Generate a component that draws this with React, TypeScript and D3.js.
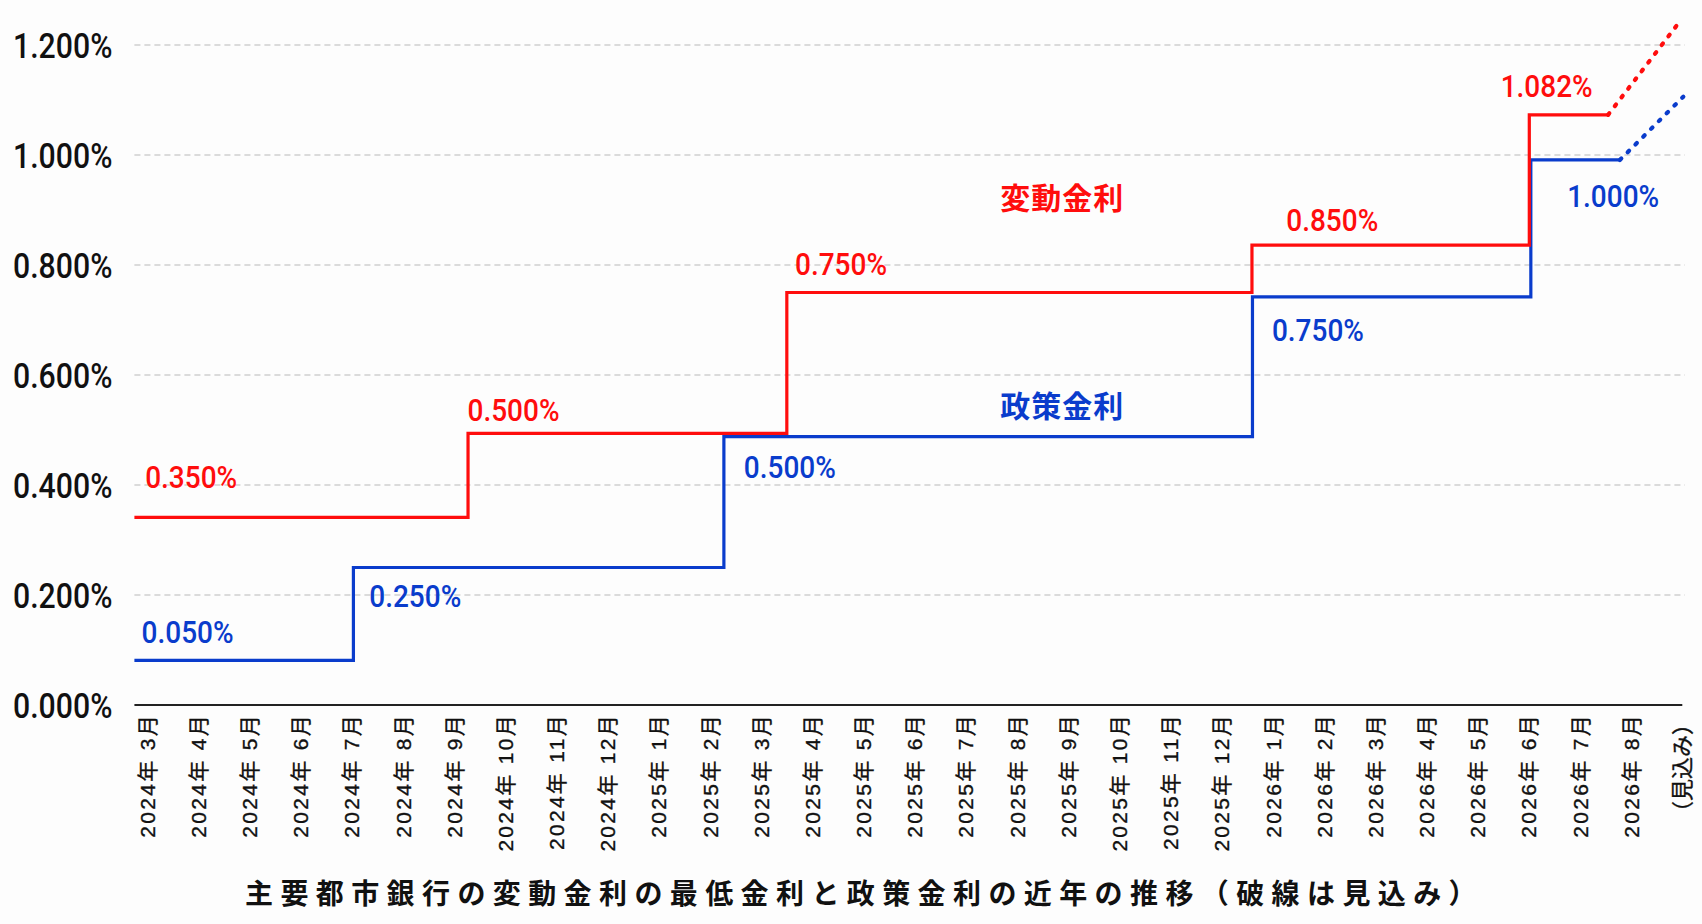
import * as d3 from 'd3'

const W = 1702
const H = 924

// x axis categories (index 0 = 2024年3月)
const MONTHS = [
  '2024年 3月', '2024年 4月', '2024年 5月', '2024年 6月', '2024年 7月', '2024年 8月',
  '2024年 9月', '2024年 10月', '2024年 11月', '2024年 12月',
  '2025年 1月', '2025年 2月', '2025年 3月', '2025年 4月', '2025年 5月', '2025年 6月',
  '2025年 7月', '2025年 8月', '2025年 9月', '2025年 10月', '2025年 11月', '2025年 12月',
  '2026年 1月', '2026年 2月', '2026年 3月', '2026年 4月', '2026年 5月', '2026年 6月',
  '2026年 7月', '2026年 8月', '（見込み）',
]
const Y_TICKS = [0, 0.2, 0.4, 0.6, 0.8, 1.0, 1.2]

// 変動金利 (step starts, month index) and level
const VAR_AT = [-0.25, 6.27, 12.5, 21.59, 27.01, 28.55]
const VAR_RATE = [0.341, 0.494, 0.75, 0.836, 1.073, 1.073]
// 政策金利
const POL_AT = [-0.25, 4.03, 11.27, 21.6, 27.04, 28.78]
const POL_RATE = [0.081, 0.25, 0.488, 0.742, 0.991, 0.991]
// 見込み (dotted)
const VAR_OUTLOOK_AT = [28.55, 29.97]
const VAR_OUTLOOK = [1.073, 1.245]
const POL_OUTLOOK_AT = [28.78, 30.02]
const POL_OUTLOOK = [0.991, 1.106]

// value labels
const VAR_LABELS = ['0.350%', '0.500%', '0.750%', '0.850%', '1.082%']
const VAR_LABEL_AT = [-0.04, 6.26, 12.66, 22.26, 26.45]
const VAR_LABEL_Y = [0.394, 0.517, 0.782, 0.862, 1.105]
const POL_LABELS = ['0.050%', '0.250%', '0.500%', '0.750%', '1.000%']
const POL_LABEL_AT = [-0.11, 4.34, 11.66, 21.98, 27.75]
const POL_LABEL_Y = [0.112, 0.178, 0.412, 0.662, 0.905]

const SERIES_NAMES = ['変動金利', '政策金利']
const SERIES_NAME_AT = [16.67, 16.67]
const SERIES_NAME_Y = [0.901, 0.524]

const TITLE = '主要都市銀行の変動金利の最低金利と政策金利の近年の推移（破線は見込み）'

const RED = '#ff0d0d'
const BLUE = '#0a3ccc'
const NUM_FONT = "Roboto, 'Liberation Sans', sans-serif"
const CJK_FONT = "'Noto Sans CJK JP', sans-serif"
const TICK_FONT = "'Liberation Sans', Arial, 'Noto Sans CJK JP', sans-serif"

type Pt = { i: number; v: number }
const zip = (a: number[], b: number[]): Pt[] => a.map((i, k) => ({ i, v: b[k] }))

export default function App() {
  const x = d3.scaleLinear().domain([0, 30]).range([147.2, 1682.3])
  const y = d3.scaleLinear().domain([0, 1.2]).range([705, 45])
  const left = x(-0.25)
  const right = x(30.05)

  const step = d3.line<Pt>().x(d => x(d.i)).y(d => y(d.v)).curve(d3.curveStepAfter)
  const straight = d3.line<Pt>().x(d => x(d.i)).y(d => y(d.v))

  const varLine = zip(VAR_AT, VAR_RATE)
  const polLine = zip(POL_AT, POL_RATE)

  // narrow the numeric font the way the original's condensed face looks
  const valueLabel = (s: string, i: number, v: number, color: string, key: string) => (
    <text key={key} transform={`translate(${x(i)},${y(v)}) scale(0.875,1)`}
      fontFamily={NUM_FONT} fontWeight={500} fontSize={32} fill={color}>{s}</text>
  )

  return (
    <svg width={W} height={H} viewBox={`0 0 ${W} ${H}`}
      style={{ position: 'absolute', left: 0, top: 0, background: '#fdfdfd' }}>
      {/* grid */}
      {Y_TICKS.filter(t => t > 0).map(t => (
        <line key={t} x1={left} x2={right} y1={y(t)} y2={y(t)}
          stroke="#cfcfcf" strokeWidth={1.5} strokeDasharray="6,4" />
      ))}
      {/* y tick labels */}
      {Y_TICKS.map(t => (
        <text key={t} transform={`translate(${left - 22},${y(t)}) scale(0.84,1)`}
          dy="0.36em" textAnchor="end"
          fontFamily={NUM_FONT} fontWeight={500} fontSize={36} fill="#111">
          {t.toFixed(3)}%
        </text>
      ))}
      {/* x axis */}
      <line x1={left} x2={x(30)} y1={y(0)} y2={y(0)} stroke="#222" strokeWidth={2} />
      {MONTHS.map((m, k) => {
        const last = k === MONTHS.length - 1
        return (
          <text key={m} transform={`translate(${x(k)},${y(0) + 8}) rotate(-90)`}
            textAnchor="end" dy="0.36em" fontFamily={TICK_FONT} fontSize={last ? 22 : 21}
            letterSpacing={last ? 0 : 2.3} fill="#111"
            stroke="#111" strokeWidth={0.35}>
            {m}
          </text>
        )
      })}

      {/* series */}
      <path d={step(polLine) ?? ''} fill="none" stroke={BLUE} strokeWidth={3.2} />
      <path d={step(varLine) ?? ''} fill="none" stroke={RED} strokeWidth={3.2} />
      <path d={straight(zip(POL_OUTLOOK_AT, POL_OUTLOOK)) ?? ''} fill="none" stroke={BLUE}
        strokeWidth={4.2} strokeDasharray="2,9" strokeLinecap="round" />
      <path d={straight(zip(VAR_OUTLOOK_AT, VAR_OUTLOOK)) ?? ''} fill="none" stroke={RED}
        strokeWidth={4.2} strokeDasharray="2,9" strokeLinecap="round" />

      {/* value labels */}
      {VAR_LABELS.map((s, k) => valueLabel(s, VAR_LABEL_AT[k], VAR_LABEL_Y[k], RED, 'v' + k))}
      {POL_LABELS.map((s, k) => valueLabel(s, POL_LABEL_AT[k], POL_LABEL_Y[k], BLUE, 'p' + k))}
      {SERIES_NAMES.map((s, k) => (
        <text key={s} x={x(SERIES_NAME_AT[k])} y={y(SERIES_NAME_Y[k])}
          fontFamily={CJK_FONT} fontWeight={700} fontSize={30} letterSpacing={1}
          fill={k === 0 ? RED : BLUE}>{s}</text>
      ))}

      {/* title */}
      <text x={245} y={904} fontFamily={CJK_FONT} fontWeight={700} fontSize={28}
        letterSpacing={7.4} fill="#111">{TITLE}</text>
    </svg>
  )
}
